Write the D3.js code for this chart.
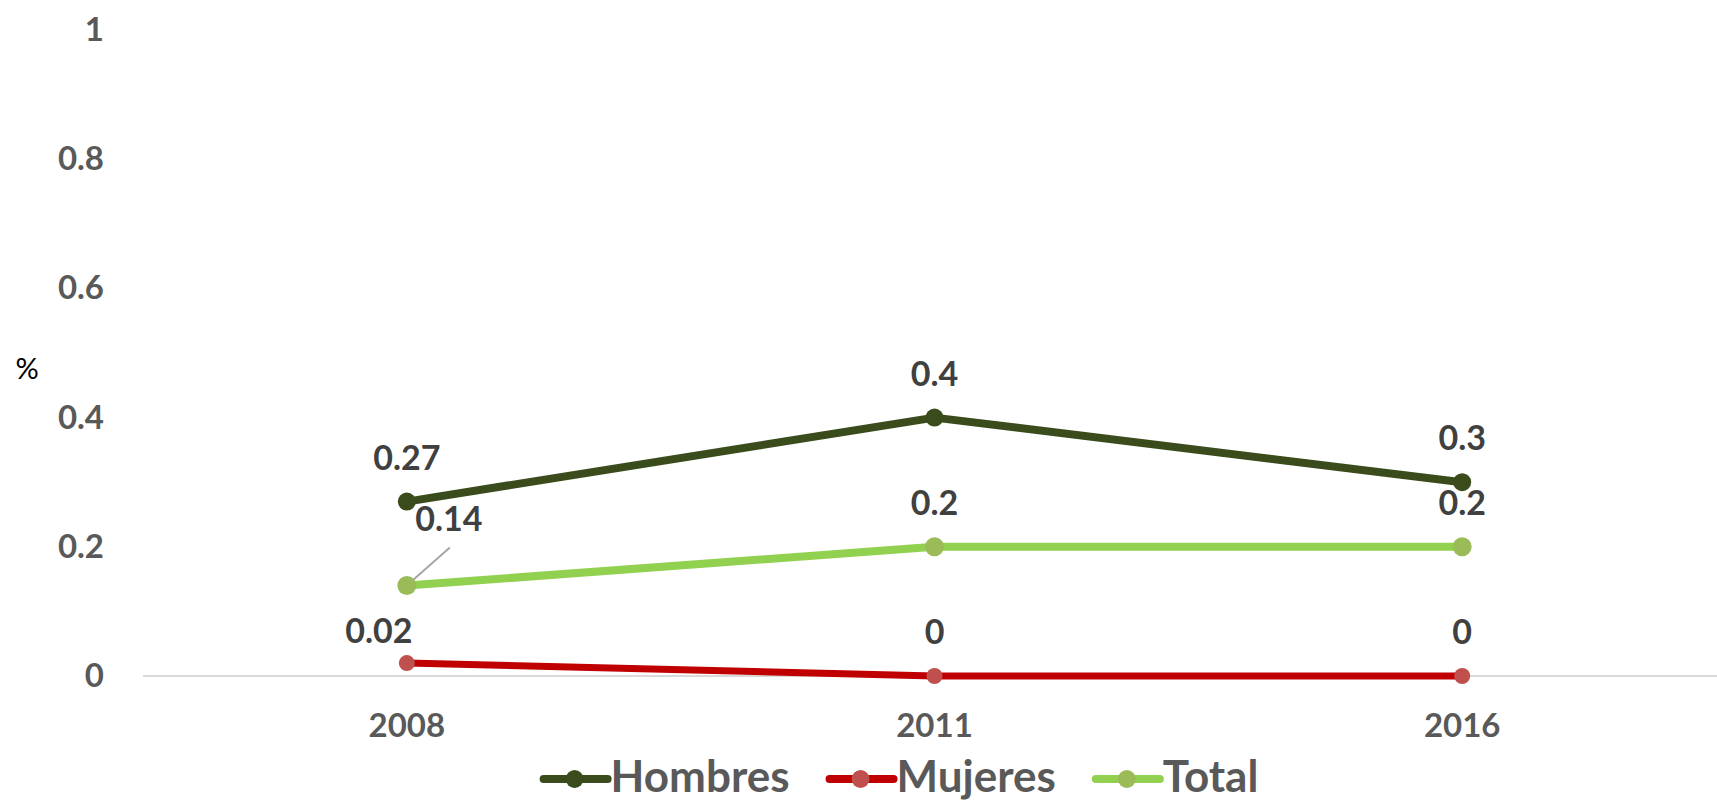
<!DOCTYPE html>
<html>
<head>
<meta charset="utf-8">
<script src="https://cdn.jsdelivr.net/npm/d3@7"></script>
<style>
    body { margin: 0; background: #ffffff; }
    text { font-family: Lato, "Open Sans", sans-serif; }
</style>
</head>
<body>
<div id="chart"></div>
<script>
// data
const years = ['2008', '2011', '2016'];
const hombres = [0.27, 0.4, 0.3];
const mujeres = [0.02, 0, 0];
const total = [0.14, 0.2, 0.2];
const yTicks = [0, 0.2, 0.4, 0.6, 0.8, 1];
const seriesNames = ['Hombres', 'Mujeres', 'Total'];

const width = 1717;
const height = 802;

const series = [
    { name: seriesNames[0], values: hombres, line: '#3a4b1c', dot: '#3a4b1c', r: 9, w: 8 },
    { name: seriesNames[1], values: mujeres, line: '#c00000', dot: '#c0504d', r: 8, w: 7 },
    { name: seriesNames[2], values: total, line: '#92d050', dot: '#9bbb59', r: 9.5, w: 8 }
];

const svg = d3.select('#chart')
    .append('svg')
    .attr('width', width)
    .attr('height', height);

const x = d3.scaleBand()
    .domain(years)
    .range([143, 1726])
    .padding(0);

const y = d3.scaleLinear()
    .domain([0, 1])
    .range([676, 30]);

const cx = d => x(d) + x.bandwidth() / 2;

// baseline (zero line)
svg.append('line')
    .attr('x1', 143)
    .attr('x2', 1726)
    .attr('y1', y(0))
    .attr('y2', y(0))
    .attr('stroke', '#d9d9d9')
    .attr('stroke-width', 2);

// y axis, labels only
const yAxis = svg.append('g')
    .attr('transform', 'translate(143,0)')
    .call(d3.axisLeft(y).tickValues(yTicks).tickSize(0).tickPadding(39).tickFormat(d3.format('')));
yAxis.select('.domain').remove();
yAxis.selectAll('text')
    .attr('fill', '#595959')
    .style('font-size', '33px')
    .style('font-weight', 'bold')
    .style('font-family', 'Lato, sans-serif');

// x axis, labels only
const xAxis = svg.append('g')
    .attr('transform', `translate(0,${y(0)})`)
    .call(d3.axisBottom(x).tickSize(0).tickPadding(38));
xAxis.select('.domain').remove();
xAxis.selectAll('text')
    .attr('fill', '#595959')
    .style('font-size', '33px')
    .style('font-weight', 'bold')
    .style('font-family', 'Lato, sans-serif');

svg.append('text')
    .attr('x', 27)
    .attr('y', 379)
    .attr('text-anchor', 'middle')
    .attr('fill', '#000000')
    .style('font-size', '29px')
    .text('%');

const line = d3.line()
    .x((d, i) => cx(years[i]))
    .y(d => y(d));

series.forEach(s => {
    svg.append('path')
        .datum(s.values)
        .attr('d', line)
        .attr('fill', 'none')
        .attr('stroke', s.line)
        .attr('stroke-width', s.w)
        .attr('stroke-linejoin', 'round');
});

// leader line for the 0.14 label
svg.append('line')
    .attr('x1', cx(years[0]))
    .attr('y1', y(total[0]))
    .attr('x2', cx(years[0]) + 43)
    .attr('y2', y(total[0]) - 38)
    .attr('stroke', '#a6a6a6')
    .attr('stroke-width', 2);

series.forEach(s => {
    svg.append('g').selectAll('circle')
        .data(s.values)
        .enter()
        .append('circle')
        .attr('cx', (d, i) => cx(years[i]))
        .attr('cy', d => y(d))
        .attr('r', s.r)
        .attr('fill', s.dot);
});

// label nudges (dx, dy from the point to the text baseline)
const nudge = {
    'Mujeres-0': [-28, -20],
    'Total-0': [42, -55]
};

series.forEach(s => {
    svg.append('g').selectAll('text')
        .data(s.values)
        .enter()
        .append('text')
        .attr('x', (d, i) => cx(years[i]) + (nudge[s.name + '-' + i] || [0, -32])[0])
        .attr('y', (d, i) => y(d) + (nudge[s.name + '-' + i] || [0, -32])[1])
        .attr('text-anchor', 'middle')
        .attr('fill', '#404040')
        .style('font-size', '34px')
        .style('font-weight', 'bold')
        .text(d => d);
});

// legend
const legend = svg.append('g');
let lx = 0;
series.forEach((s, i) => {
    const g = legend.append('g').attr('transform', `translate(${lx},0)`);
    g.append('line')
        .attr('x1', 0).attr('x2', 64)
        .attr('y1', 0).attr('y2', 0)
        .attr('stroke', s.line)
        .attr('stroke-width', 8)
        .attr('stroke-linecap', 'round');
    g.append('circle')
        .attr('cx', 31).attr('cy', 0)
        .attr('r', 9)
        .attr('fill', s.dot);
    const t = g.append('text')
        .attr('x', 67)
        .attr('y', 13)
        .attr('fill', '#595959')
        .style('font-size', '44px')
        .style('font-weight', 'bold')
        .text(s.name);
    lx += 67 + t.node().getComputedTextLength() + 40;
});
const legendWidth = lx - 40;
legend.attr('transform', `translate(${901 - legendWidth / 2},779)`);
</script>
</body>
</html>
